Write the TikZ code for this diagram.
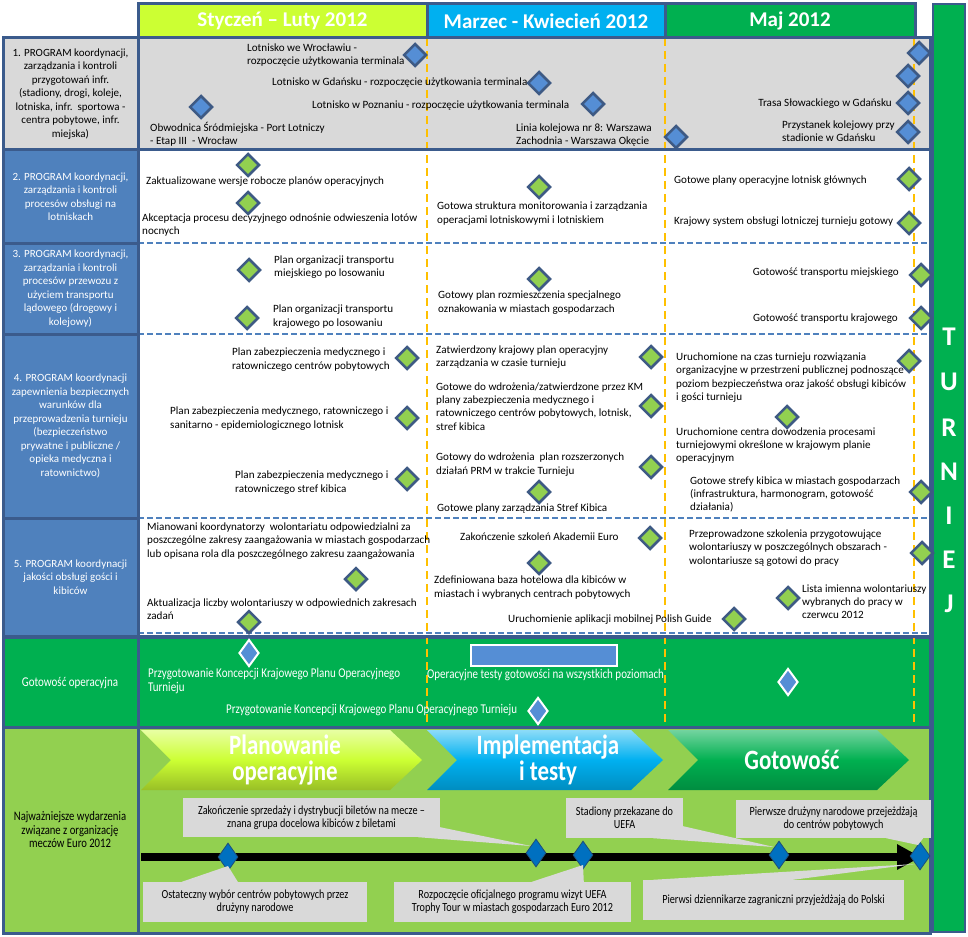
\documentclass[tikz,border=0pt]{standalone}
\usepackage{fontspec}
\setmainfont{Carlito}
\newfontfamily\condf[FakeStretch=0.82]{Carlito}
\usetikzlibrary{shapes.geometric,arrows.meta,calc}
\definecolor{frame}{HTML}{3B5B8C}
\definecolor{cellblue}{HTML}{4F81BD}
\definecolor{rowgray}{HTML}{D9D9D9}
\definecolor{limeh}{HTML}{CCFF33}
\definecolor{cyanh}{HTML}{00B0F0}
\definecolor{greenh}{HTML}{00B050}
\definecolor{lgreen}{HTML}{92D050}
\definecolor{orangel}{HTML}{FFC000}
\definecolor{dfill}{HTML}{558ED5}
\definecolor{dborder}{HTML}{3E5A84}
\definecolor{bdia}{HTML}{0070C0}
\definecolor{bdiab}{HTML}{1F4E79}
\definecolor{sepblue}{HTML}{4F81BD}
\begin{document}
\begin{tikzpicture}[x=1pt,y=-1pt,
  txt/.style={font=\fontsize{11.1}{13.3}\selectfont, inner sep=0pt, align=left, text=black},
  wtxt/.style={font=\condf\fontsize{13.4}{14}\selectfont, inner sep=0pt, align=left, text=white},
  hdr/.style={draw=frame, line width=3pt, minimum height=34pt, inner sep=0pt, text=white, font=\bfseries\fontsize{21}{24}\selectfont},
  lcell/.style={draw=frame, line width=3pt, fill=cellblue, inner sep=0pt, text=white, align=center, minimum width=135pt, font=\fontsize{11}{13.5}\selectfont},
  callbox/.style={fill=rowgray, inner sep=0pt, align=center, text=black, font=\condf\fontsize{12.4}{13}\selectfont},
  chevtxt/.style={text=white, font=\condf\bfseries\fontsize{28}{26}\selectfont, align=center, inner sep=0pt},
  tletter/.style={text=white, font=\bfseries\fontsize{27}{27}\selectfont, inner sep=0pt},
  bd/.style={diamond, draw=dborder, fill=dfill, line width=2.5pt, minimum width=23pt, minimum height=23pt, inner sep=0pt},
  gd/.style={diamond, draw=dborder, fill=lgreen, line width=2.5pt, minimum width=23pt, minimum height=23pt, inner sep=0pt},
  wd/.style={diamond, draw=white, fill=dfill, line width=2pt, minimum width=20pt, minimum height=27pt, inner sep=0pt},
  kd/.style={diamond, draw=bdiab, fill=bdia, line width=0.8pt, minimum width=20pt, minimum height=28pt, inner sep=0pt},
  sep/.style={sepblue, line width=2pt, dash pattern=on 6pt off 3pt},
  odash/.style={orangel, line width=2.5pt, dash pattern=on 8pt off 5pt},
  frm/.style={frame, line width=3pt}
]
\useasboundingbox (0,0) rectangle (968,936);
\fill[white] (0,0) rectangle (968,936);

% ---------- header ----------
\node[hdr, fill=limeh, minimum width=289pt] (h1) at (282.5,21) {Styczeń – Luty 2012};
\node[hdr, fill=cyanh, minimum width=238pt] (h2) at (546,21) {Marzec - Kwiecień 2012};
\node[hdr, fill=greenh, minimum width=250pt] (h3) at (790,21) {Maj 2012};

% ---------- table body fills ----------
\fill[rowgray] (3,38) rectangle (930,150);
\fill[white] (138,150) rectangle (930,636);

% left cells
\node[lcell, fill=rowgray, text=black, minimum height=112pt] (L1) at (70.5,94) {1. PROGRAM koordynacji,\\zarządzania i kontroli\\przygotowań infr.\\(stadiony, drogi, koleje,\\lotniska, infr.\ \ sportowa -\\centra pobytowe, infr.\\miejska)};
\node[lcell, minimum height=93pt] (L2) at (70.5,196.5) {2. PROGRAM koordynacji,\\zarządzania i kontroli\\procesów obsługi na\\lotniskach};
\node[lcell, minimum height=91pt] (L3) at (70.5,288.5) {3. PROGRAM koordynacji,\\zarządzania i kontroli\\procesów przewozu z\\użyciem transportu\\lądowego (drogowy i\\kolejowy)};
\node[lcell, minimum height=184pt] (L4) at (70.5,426) {4. PROGRAM koordynacji\\zapewnienia bezpiecznych\\warunków dla\\przeprowadzenia turnieju\\(bezpieczeństwo\\prywatne i publiczne /\\opieka medyczna i\\ratownictwo)};
\node[lcell, minimum height=118pt] (L5) at (70.5,577) {5. PROGRAM koordynacji\\jakości obsługi gości i\\kibiców};

% row separators
\draw[sep] (138,243) -- (930,243);
\draw[sep] (138,334) -- (930,334);
\draw[sep] (138,518) -- (930,518);
\draw[sep] (138,633) -- (930,633);

% gotowosc row and bottom row
\filldraw[fill=greenh, draw=frame, line width=3pt] (3,637) rectangle (930,727);
\draw[frm] (138,637) -- (138,727);
\filldraw[fill=lgreen, draw=frame, line width=3pt] (3,727) rectangle (930,933);
\draw[frm] (138,727) -- (138,933);

% orange month separators
\draw[odash] (427,38) -- (427,724);
\draw[odash] (665,38) -- (665,724);
\draw[odash] (914,38) -- (914,724);

% frame lines
\draw[frm] (3,38) rectangle (930,636);
\draw[frm] (138,38) -- (138,636);
\draw[frm] (3,150) -- (930,150);

% TURNIEJ column
\node[draw=frame, fill=greenh, line width=2pt, minimum width=32pt, minimum height=928pt, inner sep=0pt] (turn) at (949,468) {};
\node[tletter] (tT) at (949,337) {T};
\node[tletter] (tU) at (949,382) {U};
\node[tletter] (tR) at (949,428) {R};
\node[tletter] (tN) at (949,472) {N};
\node[tletter] (tI) at (949,516) {I};
\node[tletter] (tE) at (949,560) {E};
\node[tletter] (tJ) at (949,604) {J};

% ---------- row 1 ----------
\node[txt,anchor=west] (a1t) at (247,55) {Lotnisko we Wrocławiu -\\rozpoczęcie użytkowania terminala};
\node[bd] (a1) at (415,55) {};
\node[txt,anchor=west] (a2t) at (272,83) {Lotnisko w Gdańsku - rozpoczęcie użytkowania terminala};
\node[bd] (a2) at (539,83) {};
\node[txt,anchor=west] (a3t) at (312,106) {Lotnisko w Poznaniu - rozpoczęcie użytkowania terminala};
\node[bd] (a3) at (593,104) {};
\node[bd] (a4) at (201,107) {};
\node[txt,anchor=west] (a4t) at (150,134.5) {Obwodnica Śródmiejska - Port Lotniczy\\- Etap III\ \ - Wrocław};
\node[txt,anchor=west] (a5t) at (516,135) {Linia kolejowa nr 8: Warszawa\\Zachodnia - Warszawa Okęcie};
\node[bd] (a5) at (676,137) {};
\node[bd] (a6) at (919,53) {};
\node[bd] (a7) at (908,76) {};
\node[txt,anchor=east] (a8t) at (892,104) {Trasa Słowackiego w Gdańsku};
\node[bd] (a8) at (908,103) {};
\node[txt,anchor=west] (a9t) at (782,131.5) {Przystanek kolejowy przy\\stadionie w Gdańsku};
\node[bd] (a9) at (908,132) {};

% ---------- row 2 ----------
\node[txt,anchor=west] (b1t) at (146,182) {Zaktualizowane wersje robocze planów operacyjnych};
\node[gd] (b1) at (248,165) {};
\node[txt,anchor=west] (b2t) at (142,225) {Akceptacja procesu decyzyjnego odnośnie odwieszenia lotów\\nocnych};
\node[gd] (b2) at (248,203) {};
\node[txt,anchor=west] (b3t) at (437,213.5) {Gotowa struktura monitorowania i zarządzania\\operacjami lotniskowymi i lotniskiem};
\node[gd] (b3) at (539,187) {};
\node[txt,anchor=west] (b4t) at (674,181) {Gotowe plany operacyjne lotnisk głównych};
\node[gd] (b4) at (909,179) {};
\node[txt,anchor=west] (b5t) at (674,222) {Krajowy system obsługi lotniczej turnieju gotowy};
\node[gd] (b5) at (909,223) {};

% ---------- row 3 ----------
\node[gd] (c1d) at (249,270) {};
\node[txt,anchor=west] (c1t) at (274,267) {Plan organizacji transportu\\miejskiego po losowaniu};
\node[gd] (c2d) at (247,318) {};
\node[txt,anchor=west] (c2t) at (273,316.5) {Plan organizacji transportu\\krajowego po losowaniu};
\node[txt,anchor=west] (c3t) at (438,302.5) {Gotowy plan rozmieszczenia specjalnego\\oznakowania w miastach gospodarzach};
\node[gd] (c3d) at (539,279) {};
\node[txt,anchor=east] (c4t) at (899,273) {Gotowość transportu miejskiego};
\node[gd] (c4d) at (921,275) {};
\node[txt,anchor=east] (c5t) at (898,319) {Gotowość transportu krajowego};
\node[gd] (c5d) at (921,318) {};

% ---------- row 4 ----------
\node[txt,anchor=west] (d1t) at (232,359.5) {Plan zabezpieczenia medycznego i\\ratowniczego centrów pobytowych};
\node[gd] (d1) at (407,358) {};
\node[txt,anchor=west] (d2t) at (170,418.5) {Plan zabezpieczenia medycznego, ratowniczego i\\sanitarno - epidemiologicznego lotnisk};
\node[gd] (d2) at (407,418) {};
\node[txt,anchor=west] (d3t) at (235,482.5) {Plan zabezpieczenia medycznego i\\ratowniczego stref kibica};
\node[gd] (d3) at (407,479) {};
\node[txt,anchor=west] (d4t) at (436,357) {Zatwierdzony krajowy plan operacyjny\\zarządzania w czasie turnieju};
\node[gd] (d4) at (651,357) {};
\node[txt,anchor=west] (d5t) at (436,406.5) {Gotowe do wdrożenia/zatwierdzone przez KM\\plany zabezpieczenia medycznego i\\ratowniczego centrów pobytowych, lotnisk,\\stref kibica};
\node[gd] (d5) at (651,406) {};
\node[txt,anchor=west] (d6t) at (436,464.5) {Gotowy do wdrożenia\ \ plan rozszerzonych\\działań PRM w trakcie Turnieju};
\node[gd] (d6) at (651,467) {};
\node[txt,anchor=west] (d7t) at (437,509) {Gotowe plany zarządzania Stref Kibica};
\node[gd] (d7) at (539,492) {};
\node[txt,anchor=west] (d8t) at (676,377.5) {Uruchomione na czas turnieju rozwiązania\\organizacyjne w przestrzeni publicznej podnoszące\\poziom bezpieczeństwa oraz jakość obsługi kibiców\\i gości turnieju};
\node[gd] (d8) at (909,361) {};
\node[txt,anchor=west] (d9t) at (676,445.5) {Uruchomione centra dowodzenia procesami\\turniejowymi określone w krajowym planie\\operacyjnym};
\node[gd] (d9) at (787,417) {};
\node[txt,anchor=west] (d10t) at (690,494.5) {Gotowe strefy kibica w miastach gospodarzach\\(infrastruktura, harmonogram, gotowość\\działania)};
\node[gd] (d10) at (921,492) {};

% ---------- row 5 ----------
\node[txt,anchor=west] (e1t) at (147,541) {Mianowani koordynatorzy\ \ wolontariatu odpowiedzialni za\\poszczególne zakresy zaangażowania w miastach gospodarzach\\lub opisana rola dla poszczególnego zakresu zaangażowania};
\node[gd] (e1) at (356,579) {};
\node[txt,anchor=west] (e2t) at (147,609.5) {Aktualizacja liczby wolontariuszy w odpowiednich zakresach\\zadań};
\node[gd] (e2) at (249,622) {};
\node[txt,anchor=west] (e3t) at (460,537) {Zakończenie szkoleń Akademii Euro};
\node[gd] (e3) at (650,538) {};
\node[txt,anchor=west] (e4t) at (434,587.5) {Zdefiniowana baza hotelowa dla kibiców w\\miastach i wybranych centrach pobytowych};
\node[gd] (e4) at (539,563) {};
\node[txt,anchor=west] (e5t) at (508,620) {Uruchomienie aplikacji mobilnej Polish Guide};
\node[gd] (e5) at (734,619) {};
\node[txt,anchor=west] (e6t) at (689,548) {Przeprowadzone szkolenia przygotowujące\\wolontariuszy w poszczególnych obszarach -\\wolontariusze są gotowi do pracy};
\node[gd] (e6) at (922,553) {};
\node[txt,anchor=west] (e7t) at (802,601.5) {Lista imienna wolontariuszy\\wybranych do pracy w\\czerwcu 2012};
\node[gd] (e7) at (788,598) {};

% ---------- gotowosc operacyjna ----------
\node[wtxt, align=center] (g0) at (70,683) {Gotowość operacyjna};
\node[wd] (g1) at (249,653) {};
\node[wtxt,anchor=west] (g1t) at (148,680.5) {Przygotowanie Koncepcji Krajowego Planu Operacyjnego\\Turnieju};
\node[draw=white, fill=dfill, line width=2pt, minimum width=146pt, minimum height=21pt, inner sep=0pt] (grect) at (544,655.5) {};
\node[wtxt,anchor=west] (g2t) at (427,675) {Operacyjne testy gotowości na wszystkich poziomach};
\node[wd] (g3) at (788,682) {};
\node[wtxt,anchor=west] (g4t) at (226,710) {Przygotowanie Koncepcji Krajowego Planu Operacyjnego Turnieju};
\node[wd] (g4) at (538,711) {};

% ---------- bottom: key events ----------
\node[font=\condf\fontsize{13}{13.5}\selectfont, text=black, align=center, inner sep=0pt] (m0) at (70,830) {Najważniejsze wydarzenia\\związane z organizację\\meczów Euro 2012};

\shade[top color=limeh!45!white, bottom color=limeh!75!black, middle color=limeh]
  (141,730) -- (390,730) -- (422,760) -- (390,790) -- (141,790) -- (171,760) -- cycle;
\shade[top color=cyanh!45!white, bottom color=cyanh!80!black, middle color=cyanh]
  (427,730) -- (631,730) -- (663,760) -- (631,790) -- (427,790) -- (457,760) -- cycle;
\shade[top color=greenh!55!white, bottom color=greenh!80!black, middle color=greenh]
  (668,730) -- (877,730) -- (909,760) -- (877,790) -- (668,790) -- (698,760) -- cycle;
\node[chevtxt] (p1) at (285,760) {Planowanie\\operacyjne};
\node[chevtxt] (p2) at (548,760) {Implementacja\\i testy};
\node[chevtxt] (p3) at (792,760) {Gotowość};

% callouts
\node[callbox, minimum width=257pt, minimum height=39pt] (c1) at (311.5,817.5) {Zakończenie sprzedaży i dystrybucji biletów na mecze –\\znana grupa docelowa kibiców z biletami};
\node[callbox, minimum width=117pt, minimum height=40pt] (c2) at (624.5,818) {Stadiony przekazane do\\UEFA};
\node[callbox, minimum width=195pt, minimum height=38pt] (c3) at (833.5,819) {Pierwsze drużyny narodowe przejeżdżają\\do centrów pobytowych};
\node[callbox, minimum width=224pt, minimum height=40pt] (c4) at (255,902) {Ostateczny wybór centrów pobytowych przez\\drużyny narodowe};
\node[callbox, minimum width=237pt, minimum height=40pt] (c5) at (512.5,902) {Rozpoczęcie oficjalnego programu wizyt UEFA\\Trophy Tour w miastach gospodarzach Euro 2012};
\node[callbox, minimum width=261pt, minimum height=40pt] (c6) at (773.5,900) {Pierwsi dziennikarze zagraniczni przyjeżdżają do Polski};

% timeline arrow
\coordinate (arrS) at (141,857);
\coordinate (arrE) at (921,857);
\draw[line width=8pt, black, -{Triangle[length=24pt,width=24pt]}] (arrS) -- (arrE);

% diamonds on timeline
\node[kd] (k1) at (228,857) {};
\node[kd] (k2) at (536,853) {};
\node[kd] (k3) at (583,855) {};
\node[kd] (k4) at (779,855) {};
\node[kd] (k5) at (920,856) {};

% callout pointers
\fill[rowgray] ($(c1.south east)+(-22,0)$) -- ($(c1.south east)+(0,-10)$) -- ($(k2)+(-5,-7)$) -- cycle;
\fill[rowgray] ($(c2.south east)+(-30,0)$) -- ($(c2.south east)+(0,-12)$) -- ($(k4)+(-5,-8)$) -- cycle;
\fill[rowgray] ($(c3.south east)+(-45,0)$) -- ($(c3.south east)+(-8,0)$) -- ($(k5)+(-2,-11)$) -- cycle;
\fill[rowgray] ($(c4.north west)+(39,0)$) -- ($(c4.north west)+(95,0)$) -- ($(k1)+(0,9)$) -- cycle;
\fill[rowgray] ($(c5.north west)+(138,0)$) -- ($(c5.north west)+(190,0)$) -- ($(k3)+(0,10)$) -- cycle;
\fill[rowgray] ($(c6.north west)+(10,0)$) -- ($(c6.north west)+(150,0)$) -- ($(k5)+(-5,8)$) -- cycle;
\end{tikzpicture}
\end{document}
